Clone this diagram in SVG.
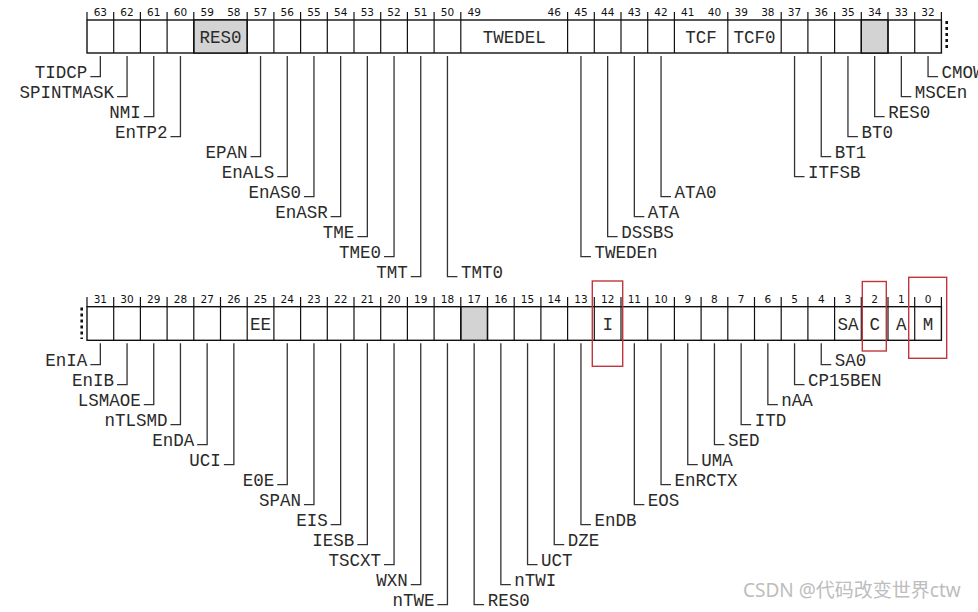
<svg xmlns="http://www.w3.org/2000/svg" width="978" height="612" viewBox="0 0 978 612">
<style>
.bg{fill:#ffffff}
.box{fill:none;stroke:#111;stroke-width:1.4}
.res{fill:#d3d3d3;stroke:#111;stroke-width:1.4}
.tick{stroke:#111;stroke-width:1.2}
.num{font-family:"DejaVu Sans",Verdana,sans-serif;font-size:10.5px;fill:#111;text-anchor:middle}
.fld{font-family:"Liberation Mono","Courier New",monospace;font-size:17.5px;fill:#2a2a2a;text-anchor:middle}
.lbl{font-family:"Liberation Mono","Courier New",monospace;font-size:17.5px;fill:#2a2a2a}
.l{text-anchor:end}
.r{text-anchor:start}
.ld{fill:none;stroke:#333;stroke-width:1.3}
.dots{stroke:#111;stroke-width:2.6;stroke-dasharray:3 3}
.red{fill:none;stroke:#c0363c;stroke-width:1.4}
.wm{font-family:"Noto Sans","Noto Sans CJK SC",sans-serif;font-size:19px;fill:#bdbdbd}
</style>
<rect class="bg" x="0" y="0" width="978" height="612"/>

<!-- ===== Upper register: bits 63..32 ===== -->
<g id="reg-upper">
  <rect class="box" x="87" y="20" width="854.4" height="33"/>
  <rect class="res" x="193.8" y="20" width="53.4" height="33"/>
  <rect class="res" x="861.3" y="20" width="26.7" height="33"/>
  <g class="tick">
    <line x1="113.7" y1="20" x2="113.7" y2="53"/><line x1="140.4" y1="20" x2="140.4" y2="53"/>
    <line x1="167.1" y1="20" x2="167.1" y2="53"/><line x1="193.8" y1="20" x2="193.8" y2="53"/>
    <line x1="247.2" y1="20" x2="247.2" y2="53"/><line x1="273.9" y1="20" x2="273.9" y2="53"/>
    <line x1="300.6" y1="20" x2="300.6" y2="53"/><line x1="327.3" y1="20" x2="327.3" y2="53"/>
    <line x1="354" y1="20" x2="354" y2="53"/><line x1="380.7" y1="20" x2="380.7" y2="53"/>
    <line x1="407.4" y1="20" x2="407.4" y2="53"/><line x1="434.1" y1="20" x2="434.1" y2="53"/>
    <line x1="460.8" y1="20" x2="460.8" y2="53"/><line x1="567.6" y1="20" x2="567.6" y2="53"/>
    <line x1="594.3" y1="20" x2="594.3" y2="53"/><line x1="621" y1="20" x2="621" y2="53"/>
    <line x1="647.7" y1="20" x2="647.7" y2="53"/><line x1="674.4" y1="20" x2="674.4" y2="53"/>
    <line x1="727.8" y1="20" x2="727.8" y2="53"/><line x1="781.2" y1="20" x2="781.2" y2="53"/>
    <line x1="807.9" y1="20" x2="807.9" y2="53"/><line x1="834.6" y1="20" x2="834.6" y2="53"/>
    <line x1="861.3" y1="20" x2="861.3" y2="53"/><line x1="888" y1="20" x2="888" y2="53"/>
    <line x1="914.7" y1="20" x2="914.7" y2="53"/>
    <line x1="87" y1="12" x2="87" y2="20"/><line x1="113.7" y1="12" x2="113.7" y2="20"/>
    <line x1="140.4" y1="12" x2="140.4" y2="20"/><line x1="167.1" y1="12" x2="167.1" y2="20"/>
    <line x1="193.8" y1="12" x2="193.8" y2="20"/><line x1="247.2" y1="12" x2="247.2" y2="20"/>
    <line x1="273.9" y1="12" x2="273.9" y2="20"/><line x1="300.6" y1="12" x2="300.6" y2="20"/>
    <line x1="327.3" y1="12" x2="327.3" y2="20"/><line x1="354" y1="12" x2="354" y2="20"/>
    <line x1="380.7" y1="12" x2="380.7" y2="20"/><line x1="407.4" y1="12" x2="407.4" y2="20"/>
    <line x1="434.1" y1="12" x2="434.1" y2="20"/><line x1="460.8" y1="12" x2="460.8" y2="20"/>
    <line x1="567.6" y1="12" x2="567.6" y2="20"/><line x1="594.3" y1="12" x2="594.3" y2="20"/>
    <line x1="621" y1="12" x2="621" y2="20"/><line x1="647.7" y1="12" x2="647.7" y2="20"/>
    <line x1="674.4" y1="12" x2="674.4" y2="20"/><line x1="727.8" y1="12" x2="727.8" y2="20"/>
    <line x1="781.2" y1="12" x2="781.2" y2="20"/><line x1="807.9" y1="12" x2="807.9" y2="20"/>
    <line x1="834.6" y1="12" x2="834.6" y2="20"/><line x1="861.3" y1="12" x2="861.3" y2="20"/>
    <line x1="888" y1="12" x2="888" y2="20"/><line x1="914.7" y1="12" x2="914.7" y2="20"/>
    <line x1="941.4" y1="12" x2="941.4" y2="20"/>
  </g>
  <line class="dots" x1="946.7" y1="21" x2="946.7" y2="51"/>
  <g class="num">
    <text x="100.35" y="16.3">63</text><text x="127.05" y="16.3">62</text><text x="153.75" y="16.3">61</text>
    <text x="180.45" y="16.3">60</text><text x="207.15" y="16.3">59</text><text x="233.85" y="16.3">58</text>
    <text x="260.55" y="16.3">57</text><text x="287.25" y="16.3">56</text><text x="313.95" y="16.3">55</text>
    <text x="340.65" y="16.3">54</text><text x="367.35" y="16.3">53</text><text x="394.05" y="16.3">52</text>
    <text x="420.75" y="16.3">51</text><text x="447.45" y="16.3">50</text><text x="474.15" y="16.3">49</text>
    <text x="554.25" y="16.3">46</text><text x="580.95" y="16.3">45</text><text x="607.65" y="16.3">44</text>
    <text x="634.35" y="16.3">43</text><text x="661.05" y="16.3">42</text><text x="687.75" y="16.3">41</text>
    <text x="714.45" y="16.3">40</text><text x="741.15" y="16.3">39</text><text x="767.85" y="16.3">38</text>
    <text x="794.55" y="16.3">37</text><text x="821.25" y="16.3">36</text><text x="847.95" y="16.3">35</text>
    <text x="874.65" y="16.3">34</text><text x="901.35" y="16.3">33</text><text x="928.05" y="16.3">32</text>
  </g>
  <g id="f-res0-59-58"><text class="fld" x="220.5" y="42.5">RES0</text></g>
  <g id="f-twedel"><text class="fld" x="514.2" y="42.5">TWEDEL</text></g>
  <g id="f-tcf"><text class="fld" x="701.1" y="42.5">TCF</text></g>
  <g id="f-tcf0"><text class="fld" x="754.5" y="42.5">TCF0</text></g>
</g>

<!-- ===== Lower register: bits 31..0 ===== -->
<g id="reg-lower">
  <rect class="box" x="87" y="306.7" width="854.4" height="33.6"/>
  <rect class="res" x="460.8" y="306.7" width="26.7" height="33.6"/>
  <g class="tick">
    <line x1="113.7" y1="306.7" x2="113.7" y2="340.3"/><line x1="140.4" y1="306.7" x2="140.4" y2="340.3"/>
    <line x1="167.1" y1="306.7" x2="167.1" y2="340.3"/><line x1="193.8" y1="306.7" x2="193.8" y2="340.3"/>
    <line x1="220.5" y1="306.7" x2="220.5" y2="340.3"/><line x1="247.2" y1="306.7" x2="247.2" y2="340.3"/>
    <line x1="273.9" y1="306.7" x2="273.9" y2="340.3"/><line x1="300.6" y1="306.7" x2="300.6" y2="340.3"/>
    <line x1="327.3" y1="306.7" x2="327.3" y2="340.3"/><line x1="354" y1="306.7" x2="354" y2="340.3"/>
    <line x1="380.7" y1="306.7" x2="380.7" y2="340.3"/><line x1="407.4" y1="306.7" x2="407.4" y2="340.3"/>
    <line x1="434.1" y1="306.7" x2="434.1" y2="340.3"/><line x1="460.8" y1="306.7" x2="460.8" y2="340.3"/>
    <line x1="487.5" y1="306.7" x2="487.5" y2="340.3"/><line x1="514.2" y1="306.7" x2="514.2" y2="340.3"/>
    <line x1="540.9" y1="306.7" x2="540.9" y2="340.3"/><line x1="567.6" y1="306.7" x2="567.6" y2="340.3"/>
    <line x1="594.3" y1="306.7" x2="594.3" y2="340.3"/><line x1="621" y1="306.7" x2="621" y2="340.3"/>
    <line x1="647.7" y1="306.7" x2="647.7" y2="340.3"/><line x1="674.4" y1="306.7" x2="674.4" y2="340.3"/>
    <line x1="701.1" y1="306.7" x2="701.1" y2="340.3"/><line x1="727.8" y1="306.7" x2="727.8" y2="340.3"/>
    <line x1="754.5" y1="306.7" x2="754.5" y2="340.3"/><line x1="781.2" y1="306.7" x2="781.2" y2="340.3"/>
    <line x1="807.9" y1="306.7" x2="807.9" y2="340.3"/><line x1="834.6" y1="306.7" x2="834.6" y2="340.3"/>
    <line x1="861.3" y1="306.7" x2="861.3" y2="340.3"/><line x1="888" y1="306.7" x2="888" y2="340.3"/>
    <line x1="914.7" y1="306.7" x2="914.7" y2="340.3"/>
    <line x1="87" y1="297" x2="87" y2="306.7"/><line x1="113.7" y1="297" x2="113.7" y2="306.7"/>
    <line x1="140.4" y1="297" x2="140.4" y2="306.7"/><line x1="167.1" y1="297" x2="167.1" y2="306.7"/>
    <line x1="193.8" y1="297" x2="193.8" y2="306.7"/><line x1="220.5" y1="297" x2="220.5" y2="306.7"/>
    <line x1="247.2" y1="297" x2="247.2" y2="306.7"/><line x1="273.9" y1="297" x2="273.9" y2="306.7"/>
    <line x1="300.6" y1="297" x2="300.6" y2="306.7"/><line x1="327.3" y1="297" x2="327.3" y2="306.7"/>
    <line x1="354" y1="297" x2="354" y2="306.7"/><line x1="380.7" y1="297" x2="380.7" y2="306.7"/>
    <line x1="407.4" y1="297" x2="407.4" y2="306.7"/><line x1="434.1" y1="297" x2="434.1" y2="306.7"/>
    <line x1="460.8" y1="297" x2="460.8" y2="306.7"/><line x1="487.5" y1="297" x2="487.5" y2="306.7"/>
    <line x1="514.2" y1="297" x2="514.2" y2="306.7"/><line x1="540.9" y1="297" x2="540.9" y2="306.7"/>
    <line x1="567.6" y1="297" x2="567.6" y2="306.7"/><line x1="594.3" y1="297" x2="594.3" y2="306.7"/>
    <line x1="621" y1="297" x2="621" y2="306.7"/><line x1="647.7" y1="297" x2="647.7" y2="306.7"/>
    <line x1="674.4" y1="297" x2="674.4" y2="306.7"/><line x1="701.1" y1="297" x2="701.1" y2="306.7"/>
    <line x1="727.8" y1="297" x2="727.8" y2="306.7"/><line x1="754.5" y1="297" x2="754.5" y2="306.7"/>
    <line x1="781.2" y1="297" x2="781.2" y2="306.7"/><line x1="807.9" y1="297" x2="807.9" y2="306.7"/>
    <line x1="834.6" y1="297" x2="834.6" y2="306.7"/><line x1="861.3" y1="297" x2="861.3" y2="306.7"/>
    <line x1="888" y1="297" x2="888" y2="306.7"/><line x1="914.7" y1="297" x2="914.7" y2="306.7"/>
    <line x1="941.4" y1="297" x2="941.4" y2="306.7"/>
  </g>
  <line class="dots" x1="81.7" y1="307.5" x2="81.7" y2="339"/>
  <g class="num">
    <text x="100.35" y="303">31</text><text x="127.05" y="303">30</text><text x="153.75" y="303">29</text>
    <text x="180.45" y="303">28</text><text x="207.15" y="303">27</text><text x="233.85" y="303">26</text>
    <text x="260.55" y="303">25</text><text x="287.25" y="303">24</text><text x="313.95" y="303">23</text>
    <text x="340.65" y="303">22</text><text x="367.35" y="303">21</text><text x="394.05" y="303">20</text>
    <text x="420.75" y="303">19</text><text x="447.45" y="303">18</text><text x="474.15" y="303">17</text>
    <text x="500.85" y="303">16</text><text x="527.55" y="303">15</text><text x="554.25" y="303">14</text>
    <text x="580.95" y="303">13</text><text x="607.65" y="303">12</text><text x="634.35" y="303">11</text>
    <text x="661.05" y="303">10</text><text x="687.75" y="303">9</text><text x="714.45" y="303">8</text>
    <text x="741.15" y="303">7</text><text x="767.85" y="303">6</text><text x="794.55" y="303">5</text>
    <text x="821.25" y="303">4</text><text x="847.95" y="303">3</text><text x="874.65" y="303">2</text>
    <text x="901.35" y="303">1</text><text x="928.05" y="303">0</text>
  </g>
  <g id="f-ee"><text class="fld" x="260.55" y="329.5">EE</text></g>
  <g id="f-i"><text class="fld" x="607.65" y="329.5">I</text></g>
  <g id="f-sa"><text class="fld" x="847.95" y="329.5">SA</text></g>
  <g id="f-c"><text class="fld" x="874.65" y="329.5">C</text></g>
  <g id="f-a"><text class="fld" x="901.35" y="329.5">A</text></g>
  <g id="f-m"><text class="fld" x="928.05" y="329.5">M</text></g>
</g>

<!-- ===== Connectors (leader lines) ===== -->
<g id="connectors" class="ld">
  <polyline points="100.35,56 100.35,76.7 90.35,76.7"/>
  <polyline points="127.05,56 127.05,96.7 117.05,96.7"/>
  <polyline points="153.75,56 153.75,116.7 143.75,116.7"/>
  <polyline points="180.45,56 180.45,136.7 170.45,136.7"/>
  <polyline points="260.55,56 260.55,156.7 250.55,156.7"/>
  <polyline points="287.25,56 287.25,176.7 277.25,176.7"/>
  <polyline points="313.95,56 313.95,196.7 303.95,196.7"/>
  <polyline points="340.65,56 340.65,216.7 330.65,216.7"/>
  <polyline points="367.35,56 367.35,236.7 357.35,236.7"/>
  <polyline points="394.05,56 394.05,256.7 384.05,256.7"/>
  <polyline points="420.75,56 420.75,276.7 410.75,276.7"/>
  <polyline points="447.45,56 447.45,276.7 457.45,276.7"/>
  <polyline points="580.95,56 580.95,256.7 590.95,256.7"/>
  <polyline points="607.65,56 607.65,236.7 617.65,236.7"/>
  <polyline points="634.35,56 634.35,216.7 644.35,216.7"/>
  <polyline points="661.05,56 661.05,196.7 671.05,196.7"/>
  <polyline points="794.55,56 794.55,176.7 804.55,176.7"/>
  <polyline points="821.25,56 821.25,156.7 831.25,156.7"/>
  <polyline points="847.95,56 847.95,136.7 857.95,136.7"/>
  <polyline points="874.65,56 874.65,116.7 884.65,116.7"/>
  <polyline points="901.35,56 901.35,96.7 911.35,96.7"/>
  <polyline points="928.05,56 928.05,76.7 938.05,76.7"/>
  <polyline points="100.35,343.3 100.35,364.7 90.35,364.7"/>
  <polyline points="127.05,343.3 127.05,384.7 117.05,384.7"/>
  <polyline points="153.75,343.3 153.75,404.7 143.75,404.7"/>
  <polyline points="180.45,343.3 180.45,424.7 170.45,424.7"/>
  <polyline points="207.15,343.3 207.15,444.7 197.15,444.7"/>
  <polyline points="233.85,343.3 233.85,464.7 223.85,464.7"/>
  <polyline points="287.25,343.3 287.25,484.7 277.25,484.7"/>
  <polyline points="313.95,343.3 313.95,504.7 303.95,504.7"/>
  <polyline points="340.65,343.3 340.65,524.7 330.65,524.7"/>
  <polyline points="367.35,343.3 367.35,544.7 357.35,544.7"/>
  <polyline points="394.05,343.3 394.05,564.7 384.05,564.7"/>
  <polyline points="420.75,343.3 420.75,584.7 410.75,584.7"/>
  <polyline points="447.45,343.3 447.45,604.7 437.45,604.7"/>
  <polyline points="474.15,343.3 474.15,604.7 484.15,604.7"/>
  <polyline points="500.85,343.3 500.85,584.7 510.85,584.7"/>
  <polyline points="527.55,343.3 527.55,564.7 537.55,564.7"/>
  <polyline points="554.25,343.3 554.25,544.7 564.25,544.7"/>
  <polyline points="580.95,343.3 580.95,524.7 590.95,524.7"/>
  <polyline points="634.35,343.3 634.35,504.7 644.35,504.7"/>
  <polyline points="661.05,343.3 661.05,484.7 671.05,484.7"/>
  <polyline points="687.75,343.3 687.75,464.7 697.75,464.7"/>
  <polyline points="714.45,343.3 714.45,444.7 724.45,444.7"/>
  <polyline points="741.15,343.3 741.15,424.7 751.15,424.7"/>
  <polyline points="767.85,343.3 767.85,404.7 777.85,404.7"/>
  <polyline points="794.55,343.3 794.55,384.7 804.55,384.7"/>
  <polyline points="821.25,343.3 821.25,364.7 831.25,364.7"/>
</g>

<!-- ===== Labels (upper) ===== -->
<g id="n-tidcp"><text class="lbl l" x="87.35" y="78.2">TIDCP</text></g>
<g id="n-spintmask"><text class="lbl l" x="114.05" y="98.2">SPINTMASK</text></g>
<g id="n-nmi"><text class="lbl l" x="140.75" y="118.2">NMI</text></g>
<g id="n-entp2"><text class="lbl l" x="167.45" y="138.2">EnTP2</text></g>
<g id="n-epan"><text class="lbl l" x="247.55" y="158.2">EPAN</text></g>
<g id="n-enals"><text class="lbl l" x="274.25" y="178.2">EnALS</text></g>
<g id="n-enas0"><text class="lbl l" x="300.95" y="198.2">EnAS0</text></g>
<g id="n-enasr"><text class="lbl l" x="327.65" y="218.2">EnASR</text></g>
<g id="n-tme"><text class="lbl l" x="354.35" y="238.2">TME</text></g>
<g id="n-tme0"><text class="lbl l" x="381.05" y="258.2">TME0</text></g>
<g id="n-tmt"><text class="lbl l" x="407.75" y="278.2">TMT</text></g>
<g id="n-tmt0"><text class="lbl r" x="460.95" y="278.2">TMT0</text></g>
<g id="n-tweden"><text class="lbl r" x="594.45" y="258.2">TWEDEn</text></g>
<g id="n-dssbs"><text class="lbl r" x="621.15" y="238.2">DSSBS</text></g>
<g id="n-ata"><text class="lbl r" x="647.85" y="218.2">ATA</text></g>
<g id="n-ata0"><text class="lbl r" x="674.55" y="198.2">ATA0</text></g>
<g id="n-itfsb"><text class="lbl r" x="808.05" y="178.2">ITFSB</text></g>
<g id="n-bt1"><text class="lbl r" x="834.75" y="158.2">BT1</text></g>
<g id="n-bt0"><text class="lbl r" x="861.45" y="138.2">BT0</text></g>
<g id="n-res0-34"><text class="lbl r" x="888.15" y="118.2">RES0</text></g>
<g id="n-mscen"><text class="lbl r" x="914.85" y="98.2">MSCEn</text></g>
<g id="n-cmow"><text class="lbl r" x="941.55" y="78.2">CMOW</text></g>

<!-- ===== Labels (lower) ===== -->
<g id="n-enia"><text class="lbl l" x="87.35" y="366.2">EnIA</text></g>
<g id="n-enib"><text class="lbl l" x="114.05" y="386.2">EnIB</text></g>
<g id="n-lsmaoe"><text class="lbl l" x="140.75" y="406.2">LSMAOE</text></g>
<g id="n-ntlsmd"><text class="lbl l" x="167.45" y="426.2">nTLSMD</text></g>
<g id="n-enda"><text class="lbl l" x="194.15" y="446.2">EnDA</text></g>
<g id="n-uci"><text class="lbl l" x="220.85" y="466.2">UCI</text></g>
<g id="n-e0e"><text class="lbl l" x="274.25" y="486.2">E0E</text></g>
<g id="n-span"><text class="lbl l" x="300.95" y="506.2">SPAN</text></g>
<g id="n-eis"><text class="lbl l" x="327.65" y="526.2">EIS</text></g>
<g id="n-iesb"><text class="lbl l" x="354.35" y="546.2">IESB</text></g>
<g id="n-tscxt"><text class="lbl l" x="381.05" y="566.2">TSCXT</text></g>
<g id="n-wxn"><text class="lbl l" x="407.75" y="586.2">WXN</text></g>
<g id="n-ntwe"><text class="lbl l" x="434.45" y="606.2">nTWE</text></g>
<g id="n-res0-17"><text class="lbl r" x="487.65" y="606.2">RES0</text></g>
<g id="n-ntwi"><text class="lbl r" x="514.35" y="586.2">nTWI</text></g>
<g id="n-uct"><text class="lbl r" x="541.05" y="566.2">UCT</text></g>
<g id="n-dze"><text class="lbl r" x="567.75" y="546.2">DZE</text></g>
<g id="n-endb"><text class="lbl r" x="594.45" y="526.2">EnDB</text></g>
<g id="n-eos"><text class="lbl r" x="647.85" y="506.2">EOS</text></g>
<g id="n-enrctx"><text class="lbl r" x="674.55" y="486.2">EnRCTX</text></g>
<g id="n-uma"><text class="lbl r" x="701.25" y="466.2">UMA</text></g>
<g id="n-sed"><text class="lbl r" x="727.95" y="446.2">SED</text></g>
<g id="n-itd"><text class="lbl r" x="754.65" y="426.2">ITD</text></g>
<g id="n-naa"><text class="lbl r" x="781.35" y="406.2">nAA</text></g>
<g id="n-cp15ben"><text class="lbl r" x="808.05" y="386.2">CP15BEN</text></g>
<g id="n-sa0"><text class="lbl r" x="834.75" y="366.2">SA0</text></g>

<!-- ===== Red highlight boxes ===== -->
<g id="highlights">
  <rect class="red" x="592.3" y="281" width="30.4" height="85.3"/>
  <rect class="red" x="862.3" y="281.5" width="24" height="69.5"/>
  <rect class="red" x="908.7" y="277.3" width="38" height="81"/>
</g>

<text class="wm" x="743" y="597">CSDN @代码改变世界ctw</text>
</svg>
